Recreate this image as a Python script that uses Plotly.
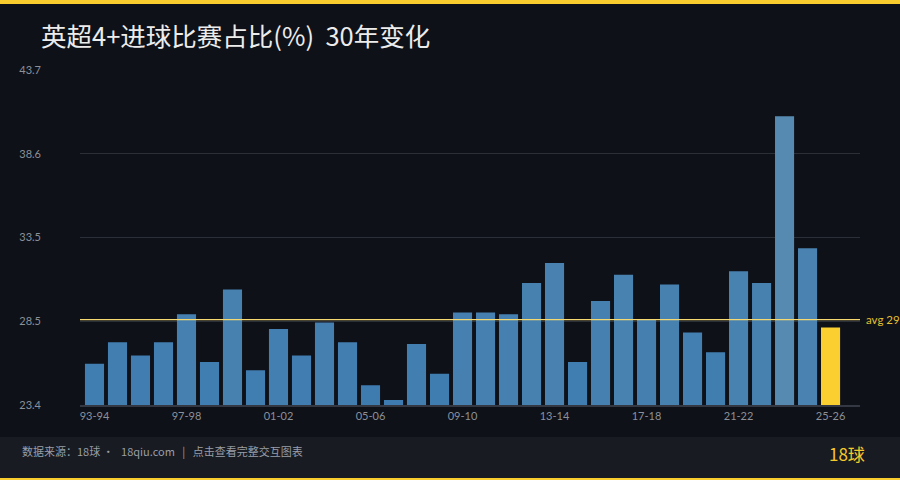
import plotly.graph_objects as go

seasons = ["93-94","94-95","95-96","96-97","97-98","98-99","99-00","00-01","01-02","02-03",
           "03-04","04-05","05-06","06-07","07-08","08-09","09-10","10-11","11-12","12-13",
           "13-14","14-15","15-16","16-17","17-18","18-19","19-20","20-21","21-22","22-23",
           "23-24","24-25","25-26"]
pct = [25.9, 27.2, 26.4, 27.2, 28.9, 26.0, 30.4, 25.5, 28.0, 26.4,
       28.4, 27.2, 24.6, 23.7, 27.1, 25.3, 29.0, 29.0, 28.9, 30.8,
       32.0, 26.0, 29.7, 31.3, 28.6, 30.7, 27.8, 26.6, 31.5, 30.8,
       40.9, 32.9, 28.1]
y_ticks = [23.4, 28.475, 33.55, 38.625, 43.7]
y_tick_text = ["23.4", "28.5", "33.5", "38.6", "43.7"]
label_seasons = ["93-94","97-98","01-02","05-06","09-10","13-14","17-18","21-22","25-26"]

avg = sum(pct) / len(pct)

W, H = 900, 480
L, R, T, B = 80, 40, 70, 75
PW, PH = W - L - R, H - T - B
NB = "\u00a0"

def px_x(x):
    return (x - L) / PW

def px_y(y):
    return (H - B - y) / PH

def lerp_color(c1, c2, t):
    a = [int(c1[i:i+2], 16) for i in (1, 3, 5)]
    b = [int(c2[i:i+2], 16) for i in (1, 3, 5)]
    return "#" + "".join(f"{round(a[i] + (b[i]-a[i]) * t):02x}" for i in range(3))

lo, hi = min(pct[:-1]), max(pct[:-1])
colors = [lerp_color("#3d7bb0", "#568ab1", (v - lo) / (hi - lo)) for v in pct]
colors[-1] = "#fbcf2f"

fig = go.Figure()
fig.add_trace(go.Bar(x=seasons, y=pct, marker=dict(color=colors, line=dict(width=0)),
                     hovertemplate="%{x}: %{y:.1f}%<extra></extra>"))

shapes = [
    dict(type="rect", xref="paper", yref="paper", x0=px_x(0), x1=px_x(W), y0=px_y(4), y1=px_y(0),
         fillcolor="#f9cd2d", line=dict(width=0), layer="below"),
    dict(type="rect", xref="paper", yref="paper", x0=px_x(0), x1=px_x(W), y0=px_y(478), y1=px_y(437),
         fillcolor="#181b22", line=dict(width=0), layer="below"),
    dict(type="rect", xref="paper", yref="paper", x0=px_x(0), x1=px_x(W), y0=px_y(H), y1=px_y(478),
         fillcolor="#f9cd2d", line=dict(width=0), layer="below"),
    dict(type="line", xref="paper", yref="y", x0=0, x1=1, y0=avg, y1=avg,
         line=dict(color="#f6d970", width=1.3), layer="above"),
]

title_text = "英超4+进球比赛占比(%)" + NB * 2 + "30年变化"
footer_text = ("数据来源：18球" + NB + "·" + NB * 3 + "18qiu.com" + NB * 3 + "|" + NB * 3
               + "点击查看完整交互图表")

annotations = [
    dict(text=title_text, xref="paper", yref="paper", x=px_x(39), y=px_y(35),
         xanchor="left", yanchor="middle", showarrow=False,
         font=dict(family="Noto Sans CJK SC", size=25.5, color="#ececec")),
    dict(text=footer_text, xref="paper", yref="paper",
         x=px_x(20), y=px_y(451), xanchor="left", yanchor="middle", showarrow=False,
         font=dict(family="Noto Sans CJK SC", size=11, color="#9a9ea6")),
    dict(text="18球", xref="paper", yref="paper", x=px_x(867), y=px_y(453),
         xanchor="right", yanchor="middle", showarrow=False,
         font=dict(family="Noto Sans CJK SC", size=17, color="#f5c92c")),
    dict(text=f"avg {avg:.0f}", xref="paper", yref="y", x=px_x(864), y=avg,
         xanchor="left", yanchor="middle", showarrow=False,
         font=dict(family="Lato", size=11.5, color="#e2c030")),
]

fig.update_layout(
    width=W, height=H,
    margin=dict(l=L, r=R, t=T, b=B, pad=0),
    paper_bgcolor="#0e1118", plot_bgcolor="#0e1118",
    showlegend=False, bargap=0.17,
    shapes=shapes, annotations=annotations,
    font=dict(family="Lato", color="#8b9099"),
)
fig.update_xaxes(
    type="category", range=[-0.63, 33.28],
    tickmode="array", tickvals=label_seasons, ticktext=label_seasons,
    showgrid=False, showline=True, linecolor="#343842", linewidth=1.5,
    ticks="", tickfont=dict(size=11, color="#8b9099"), zeroline=False,
)
fig.update_yaxes(
    range=[23.4, 43.7], tickmode="array", tickvals=y_ticks, ticktext=y_tick_text,
    showgrid=True, gridcolor="#2b2f37", gridwidth=1, zeroline=False, showline=False,
    ticks="", ticklabelstandoff=38, tickfont=dict(size=11, color="#8b9099"),
)

fig.write_html("out.html", config={"displayModeBar": False},
               post_script="document.body.style.margin='0';document.body.style.background='#0e1118';")
